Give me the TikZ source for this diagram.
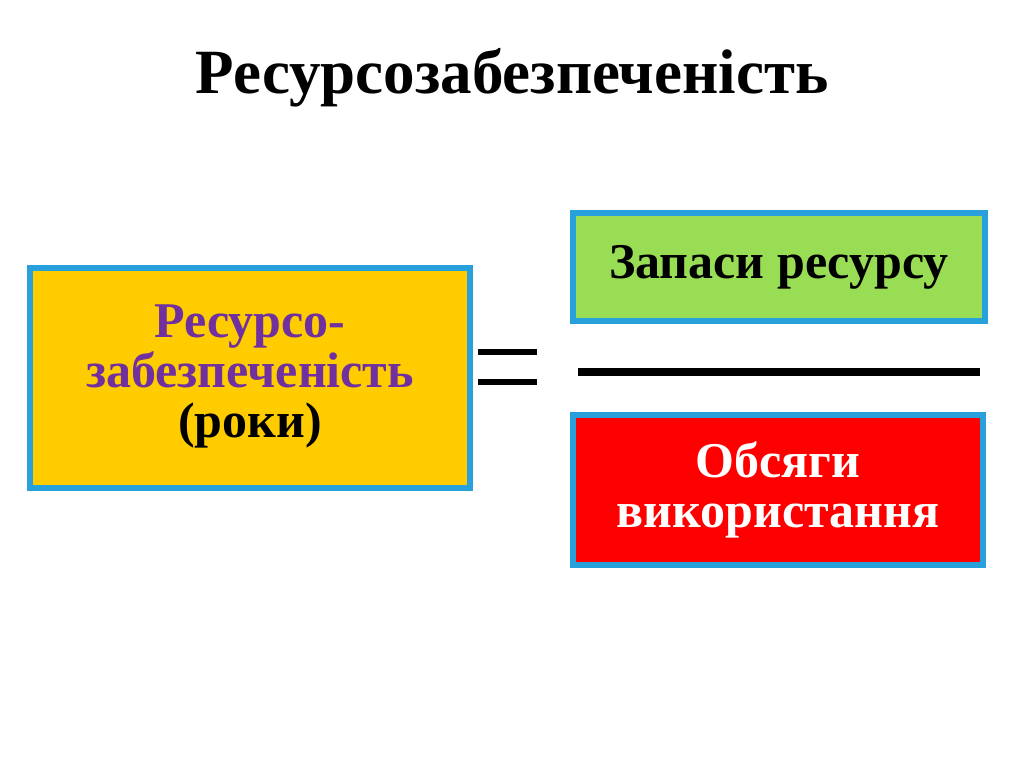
\documentclass[tikz,border=0pt]{standalone}
\usepackage{fontspec}
\setmainfont{Liberation Serif}
\definecolor{bord}{RGB}{40,160,220}
\definecolor{purp}{RGB}{112,48,160}
\begin{document}
\begin{tikzpicture}[x=1pt,y=-1pt,
  bx/.style={draw=bord, line width=6pt, inner sep=0pt},
  tx/.style={font=\bfseries\fontsize{50}{50}\selectfont, align=center}]
\useasboundingbox (0,0) rectangle (1024,767);
\fill[white] (0,0) rectangle (1024,767);
\node[font=\bfseries\fontsize{63}{70}\selectfont] (title) at (512,78) {Ресурсозабезпеченість};
\draw[bx, fill={rgb,255:red,255;green,204;blue,0}] (30,268) rectangle (470,488);
\node[tx] (l) at (250,376) {\textcolor{purp}{Ресурсо-}\\\textcolor{purp}{забезпеченість}\\(роки)};
\draw[bx, fill={rgb,255:red,153;green,221;blue,85}] (573,213) rectangle (985,321);
\node[tx] (t) at (779,267) {Запаси ресурсу};
\draw[bx, fill={rgb,255:red,255;green,0;blue,0}] (573,415) rectangle (983,565);
\node[tx, text=white] (b) at (778,490) {Обсяги\\використання};
\draw[line width=6pt] (478,352) -- (537,352) (478,382) -- (537,382);
\draw[line width=8pt] (578,372) -- (980,372);
\end{tikzpicture}
\end{document}
